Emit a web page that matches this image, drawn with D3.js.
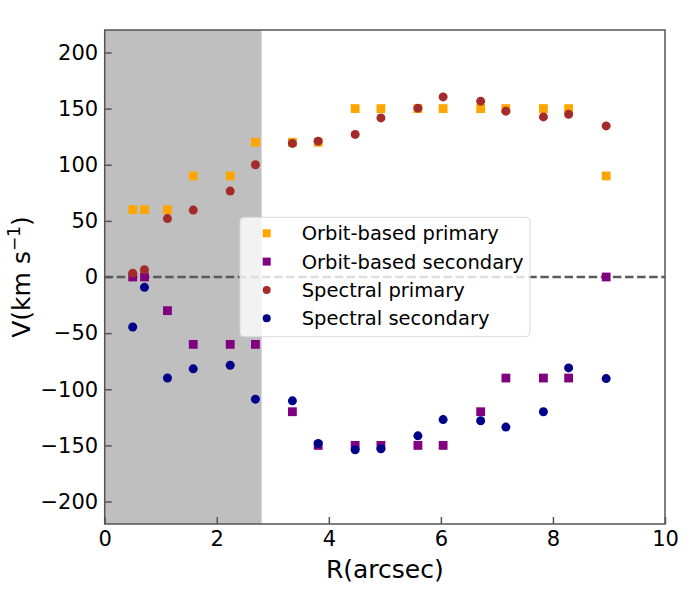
<!DOCTYPE html>
<html>
<head>
<meta charset="utf-8">
<script src="https://cdn.jsdelivr.net/npm/d3@7"></script>
<style>
  body { margin: 0; background: #fff; }
  svg { font-family: "DejaVu Sans", sans-serif; }
</style>
</head>
<body>
<div id="chart"></div>
<script>
// radius (arcsec) shared by all four series
var radius = [0.50, 0.71, 1.12, 1.58, 2.24, 2.69, 3.35, 3.81, 4.47, 4.93, 5.59, 6.04, 6.71, 7.16, 7.83, 8.28, 8.95];
var orbitPrimary   = [60, 60, 60, 90, 90, 120, 120, 120, 150, 150, 150, 150, 150, 150, 150, 150, 90];
var orbitSecondary = [0, 0, -30, -60, -60, -60, -120, -150, -150, -150, -150, -150, -120, -90, -90, -90, 0];
var specPrimary    = [3.3, 6.5, 52, 59.6, 76.5, 100, 119, 121, 127, 141.7, 150.4, 160.4, 156.6, 147.7, 142.6, 145, 134.6];
var specSecondary  = [-44.5, -9.2, -90, -81.8, -78.6, -108.8, -110.3, -148.3, -153.9, -153, -141.5, -127, -128, -133.7, -120, -81, -90.5];

var xTicks = [0, 2, 4, 6, 8, 10];
var yTicks = [-200, -150, -100, -50, 0, 50, 100, 150, 200];
var shadeRange = [0, 2.8];

var series = [
  { name: "Orbit-based primary",   values: orbitPrimary,   shape: "square", color: "#ffa500" },
  { name: "Orbit-based secondary", values: orbitSecondary, shape: "square", color: "#800080" },
  { name: "Spectral primary",      values: specPrimary,    shape: "circle", color: "#a52a2a" },
  { name: "Spectral secondary",    values: specSecondary,  shape: "circle", color: "#00008b" }
];

var width = 700, height = 600;
var margin = { left: 104.7, right: 35, top: 30, bottom: 76 };
var spine = "#555";

var svg = d3.select("#chart").append("svg").attr("width", width).attr("height", height);

var xScale = d3.scaleLinear().domain([0, 10]).range([margin.left, width - margin.right]);
var yScale = d3.scaleLinear().domain([-220, 220]).range([height - margin.bottom, margin.top]);

// grey band on the left
svg.append("rect")
  .attr("x", xScale(shadeRange[0]))
  .attr("y", yScale(220))
  .attr("width", xScale(shadeRange[1]) - xScale(shadeRange[0]))
  .attr("height", yScale(-220) - yScale(220))
  .attr("fill", "#bfbfbf");

// zero line
svg.append("line")
  .attr("x1", xScale(0)).attr("x2", xScale(10))
  .attr("y1", yScale(0)).attr("y2", yScale(0))
  .attr("stroke", "#5a5a5a")
  .attr("stroke-width", 2.4)
  .attr("stroke-dasharray", "8.5,3.6");

// points
var sq = 8.8;
series.forEach(function(s) {
  var g = svg.append("g");
  var pts = radius.map(function(r, i) { return { x: r, y: s.values[i] }; });
  if (s.shape == "square") {
    g.selectAll("rect").data(pts).enter().append("rect")
      .attr("x", d => xScale(d.x) - sq / 2)
      .attr("y", d => yScale(d.y) - sq / 2)
      .attr("width", sq).attr("height", sq)
      .attr("fill", s.color);
  } else {
    g.selectAll("circle").data(pts).enter().append("circle")
      .attr("cx", d => xScale(d.x))
      .attr("cy", d => yScale(d.y))
      .attr("r", 4.5)
      .attr("fill", s.color);
  }
});

// axes, ticks pointing inward
var xAxis = d3.axisBottom(xScale).tickValues(xTicks).tickFormat(d3.format("d"))
  .tickSizeInner(-7).tickSizeOuter(0).tickPadding(7);
var yAxis = d3.axisLeft(yScale).tickValues(yTicks).tickFormat(d3.format("d"))
  .tickSizeInner(-7).tickSizeOuter(0).tickPadding(6.5);

var gx = svg.append("g").attr("transform", "translate(0," + yScale(-220) + ")").call(xAxis);
var gy = svg.append("g").attr("transform", "translate(" + xScale(0) + ",0)").call(yAxis);
[gx, gy].forEach(function(g) {
  g.select(".domain").remove();
  g.selectAll(".tick line").attr("stroke", spine).attr("stroke-width", 1.5);
  g.selectAll(".tick text").attr("fill", "#000").style("font-size", "21px")
    .style("font-family", "'DejaVu Sans', sans-serif");
});

// frame
svg.append("rect")
  .attr("x", xScale(0)).attr("y", yScale(220))
  .attr("width", xScale(10) - xScale(0))
  .attr("height", yScale(-220) - yScale(220))
  .attr("fill", "none").attr("stroke", spine).attr("stroke-width", 1.5);

// axis labels
svg.append("text")
  .attr("x", (xScale(0) + xScale(10)) / 2)
  .attr("y", 578)
  .attr("text-anchor", "middle")
  .style("font-size", "25px")
  .text("R(arcsec)");

var yl = svg.append("text")
  .attr("transform", "translate(30," + yScale(0) + ") rotate(-90)")
  .attr("text-anchor", "middle")
  .style("font-size", "25px");
yl.append("tspan").text("V(km s");
yl.append("tspan").attr("dy", -10).style("font-size", "17px").text("\u22121");
yl.append("tspan").attr("dy", 10).text(")");

// legend
var lg = svg.append("g").attr("transform", "translate(240,217.3)");
lg.append("rect")
  .attr("width", 290).attr("height", 119.4)
  .attr("rx", 4).attr("ry", 4)
  .attr("fill", "#fff").attr("fill-opacity", 0.8)
  .attr("stroke", "#d9d9d9").attr("stroke-width", 1);

series.forEach(function(s, i) {
  var cy = 16 + i * 28.3;
  if (s.shape == "square") {
    lg.append("rect").attr("x", 26.7 - 4).attr("y", cy - 4).attr("width", 8).attr("height", 8).attr("fill", s.color);
  } else {
    lg.append("circle").attr("cx", 26.7).attr("cy", cy).attr("r", 4).attr("fill", s.color);
  }
  lg.append("text")
    .attr("x", 61.7).attr("y", cy + 7)
    .style("font-size", "19.5px")
    .text(s.name);
});
</script>
</body>
</html>
